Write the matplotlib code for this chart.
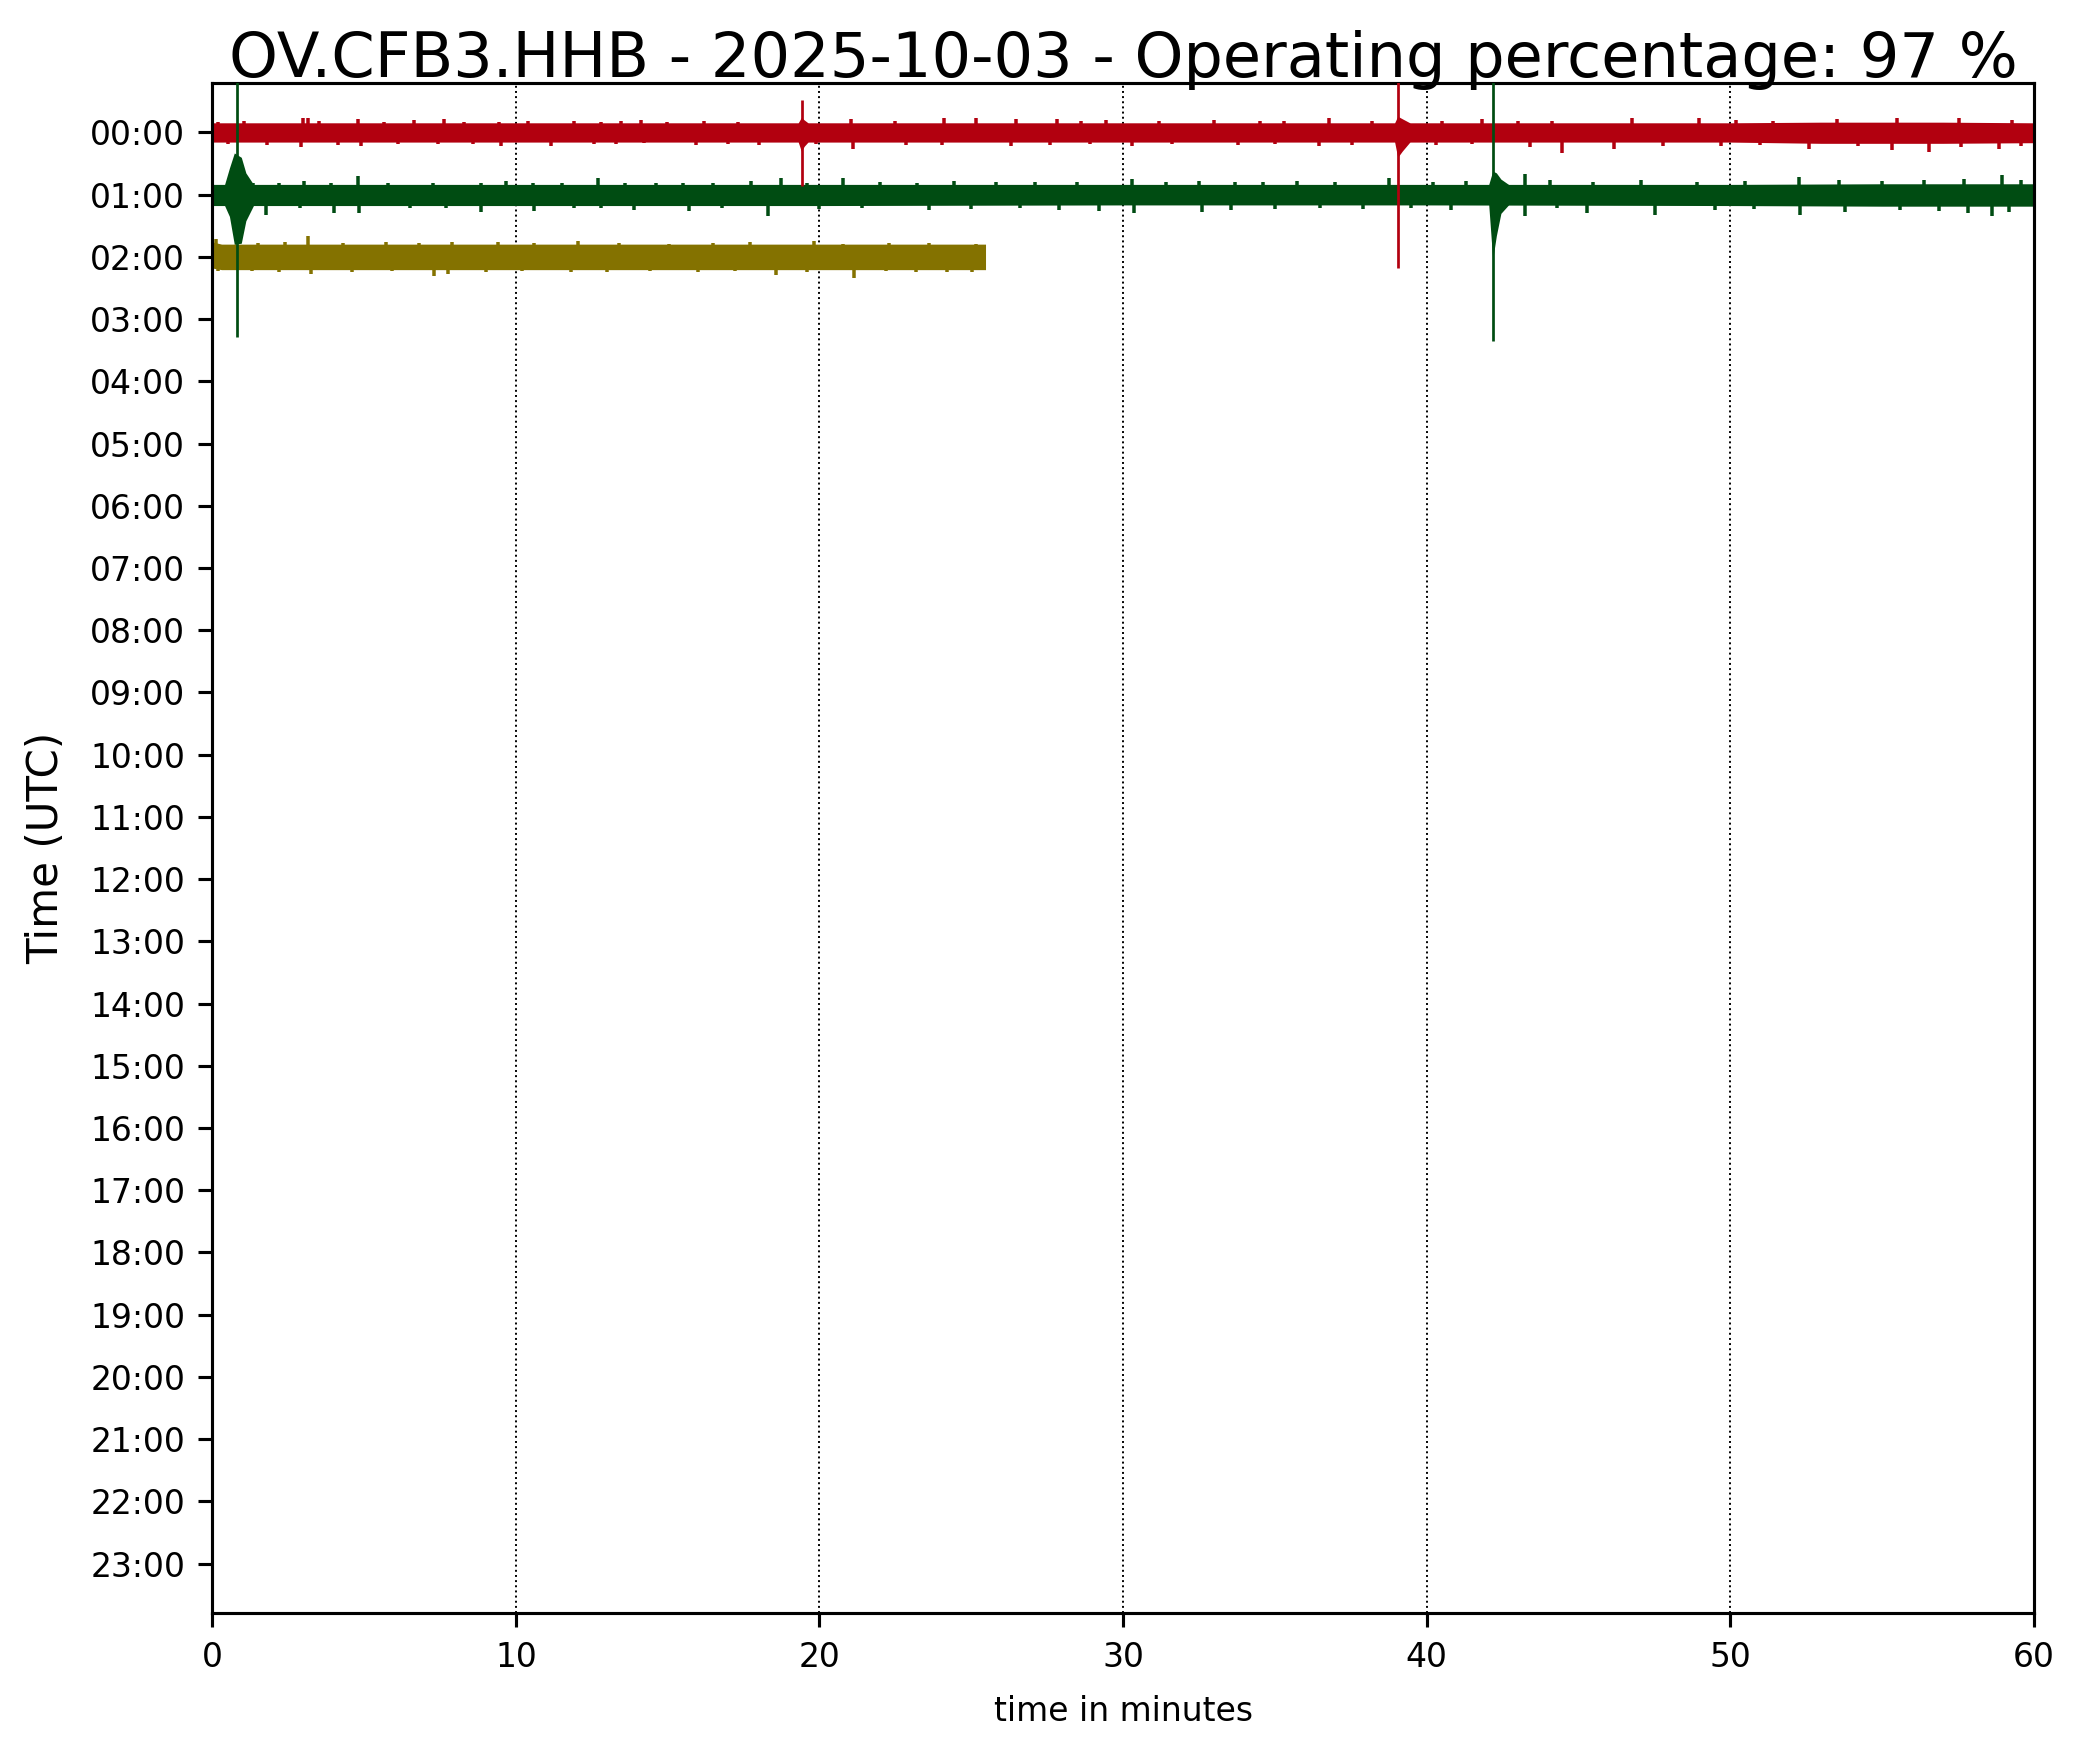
import numpy as np
import matplotlib
matplotlib.use("Agg")
import matplotlib.pyplot as plt

# ---------------- data ----------------
title = "OV.CFB3.HHB - 2025-10-03 - Operating percentage: 97 %"
hour_labels = [f"{h:02d}:00" for h in range(24)]
x_ticks = [0, 10, 20, 30, 40, 50, 60]
colors = ['#B2000F', '#004C12', '#847200']

# rows (hour index) of the three recorded hours
trace_rows = [0, 1, 2]

# core noise band half widths (in row units), read at breakpoints (minutes)
red_core_t = [0, 10, 20, 30, 40, 50, 53, 57, 60]
red_core_up = [0.155, 0.155, 0.155, 0.155, 0.155, 0.155, 0.165, 0.165, 0.155]
red_core_dn = [0.155, 0.155, 0.155, 0.155, 0.155, 0.155, 0.175, 0.175, 0.165]

green_core_t = [0, 10, 20, 30, 40, 50, 55, 60]
green_core_up = [0.165, 0.165, 0.165, 0.165, 0.165, 0.165, 0.175, 0.175]
green_core_dn = [0.175, 0.175, 0.175, 0.165, 0.165, 0.175, 0.185, 0.185]

yellow_core_t = [0, 0.3, 10, 20, 25.47]
yellow_core_up = [0.24, 0.205, 0.205, 0.205, 0.205]
yellow_core_dn = [0.18, 0.205, 0.205, 0.205, 0.205]

# individual noise peaks: (minute, amplitude) upward and downward
red_up = [[0.18, 0.16], [1.05, 0.19], [2.97, 0.24], [3.14, 0.23], [3.52, 0.19], [4.79, 0.22],
          [5.66, 0.16], [6.65, 0.20], [7.64, 0.21], [8.3, 0.17], [9.45, 0.17], [10.4, 0.18],
          [11.92, 0.19], [12.8, 0.17], [13.46, 0.19], [14.12, 0.20], [14.99, 0.16], [16.2, 0.18],
          [17.3, 0.17], [21.03, 0.21], [22.5, 0.18], [24.1, 0.24], [25.15, 0.23], [26.47, 0.21],
          [27.84, 0.21], [28.6, 0.19], [29.43, 0.20], [31.2, 0.18], [33.0, 0.20], [34.5, 0.19],
          [35.3, 0.18], [36.78, 0.23], [38.2, 0.19], [40.5, 0.19], [41.83, 0.21], [43.0, 0.18],
          [44.14, 0.19], [46.77, 0.23], [48.97, 0.23], [50.2, 0.20], [51.4, 0.19], [53.52, 0.22],
          [55.5, 0.24], [57.53, 0.23], [59.3, 0.20]]
red_dn = [[0.5, 0.19], [1.8, 0.20], [2.92, 0.24], [4.13, 0.20], [4.90, 0.21], [6.1, 0.18],
          [7.42, 0.19], [8.6, 0.18], [9.51, 0.21], [11.15, 0.22], [12.58, 0.19], [13.3, 0.18],
          [14.23, 0.17], [15.93, 0.20], [17.0, 0.18], [18.01, 0.20], [19.9, 0.19], [21.09, 0.26],
          [22.84, 0.20], [24.05, 0.20], [26.3, 0.21], [27.6, 0.20], [28.9, 0.19], [30.3, 0.21],
          [31.6, 0.19], [33.8, 0.20], [35.0, 0.19], [36.45, 0.21], [37.55, 0.20], [40.3, 0.20],
          [41.5, 0.19], [43.42, 0.24], [44.47, 0.33], [46.17, 0.27], [47.8, 0.22], [49.7, 0.21],
          [51.0, 0.20], [52.59, 0.26], [54.2, 0.22], [55.33, 0.28], [56.54, 0.32], [57.6, 0.23],
          [58.85, 0.27], [59.6, 0.22]]

green_up = [[1.33, 0.19], [2.2, 0.18], [3.03, 0.22], [3.91, 0.19], [4.79, 0.30], [5.8, 0.19],
            [7.26, 0.19], [8.85, 0.19], [9.67, 0.22], [10.55, 0.19], [11.5, 0.18], [12.69, 0.27],
            [13.6, 0.19], [14.61, 0.19], [15.5, 0.18], [16.48, 0.19], [17.74, 0.22], [18.72, 0.27],
            [19.6, 0.19], [20.76, 0.27], [22.0, 0.20], [23.2, 0.19], [24.44, 0.22], [25.8, 0.20],
            [27.1, 0.21], [28.5, 0.20], [30.3, 0.25], [31.4, 0.20], [32.5, 0.22], [33.7, 0.21],
            [34.6, 0.20], [35.74, 0.22], [37.0, 0.21], [38.76, 0.26], [40.2, 0.20], [41.3, 0.22],
            [43.26, 0.34], [44.08, 0.23], [45.5, 0.20], [47.05, 0.23], [48.9, 0.21], [50.5, 0.22],
            [52.26, 0.29], [53.6, 0.24], [55.0, 0.22], [56.4, 0.23], [57.7, 0.25], [58.96, 0.31],
            [59.6, 0.24]]
green_dn = [[1.77, 0.32], [2.9, 0.22], [4.02, 0.30], [4.84, 0.29], [6.5, 0.22], [7.7, 0.21],
            [8.85, 0.28], [10.6, 0.26], [11.9, 0.22], [12.8, 0.21], [13.9, 0.25], [15.71, 0.26],
            [16.8, 0.22], [18.29, 0.35], [20.0, 0.23], [21.4, 0.22], [23.61, 0.24], [25.0, 0.23],
            [26.6, 0.22], [27.9, 0.24], [29.21, 0.26], [30.36, 0.30], [32.61, 0.28], [33.55, 0.25],
            [35.0, 0.23], [36.5, 0.22], [37.9, 0.23], [39.5, 0.22], [40.8, 0.24], [43.26, 0.34],
            [44.3, 0.22], [45.29, 0.29], [47.54, 0.32], [49.5, 0.24], [50.8, 0.23], [52.31, 0.32],
            [53.79, 0.28], [55.6, 0.25], [56.9, 0.27], [57.85, 0.30], [58.63, 0.34], [59.2, 0.28]]

yellow_up = [[0.12, 0.29], [1.5, 0.23], [2.4, 0.24], [3.14, 0.34], [4.3, 0.23], [5.72, 0.24],
             [6.8, 0.22], [7.9, 0.24], [9.4, 0.24], [10.6, 0.23], [12.03, 0.26], [13.4, 0.22],
             [15.05, 0.21], [16.5, 0.23], [17.7, 0.24], [19.82, 0.25], [20.76, 0.21], [22.3, 0.22],
             [23.6, 0.23], [25.15, 0.21]]
yellow_dn = [[0.18, 0.22], [1.3, 0.23], [2.2, 0.24], [3.25, 0.27], [4.6, 0.24], [5.9, 0.23],
             [7.31, 0.30], [7.75, 0.27], [9.0, 0.24], [10.2, 0.23], [11.81, 0.25], [13.0, 0.24],
             [14.4, 0.23], [16.0, 0.24], [17.2, 0.22], [18.56, 0.29], [19.6, 0.24], [21.14, 0.34],
             [22.2, 0.23], [23.17, 0.25], [24.2, 0.24], [25.04, 0.25]]

# event envelopes: lists of (minute, up, down)
red_events = [
    [[19.30, 0.155, 0.155], [19.40, 0.24, 0.30], [19.50, 0.20, 0.22], [19.62, 0.155, 0.155]],
    [[38.95, 0.155, 0.155], [39.05, 0.26, 0.40], [39.20, 0.22, 0.30], [39.45, 0.155, 0.155]],
]
green_events = [
    [[0.40, 0.165, 0.175], [0.56, 0.43, 0.35], [0.72, 0.67, 0.80], [0.95, 0.60, 0.78],
     [1.10, 0.35, 0.42], [1.35, 0.165, 0.175]],
    [[42.05, 0.165, 0.165], [42.18, 0.38, 1.04], [42.30, 0.35, 0.66], [42.45, 0.25, 0.30],
     [42.70, 0.165, 0.165]],
]
yellow_events = []

# large spikes: (minute, up, down)
red_spikes = [[19.43, 0.52, 0.86], [39.06, 1.00, 2.18]]
green_spikes = [[0.81, 2.00, 2.29], [42.20, 2.00, 2.35]]
yellow_spikes = []

cores = [(red_core_t, red_core_up, red_core_dn),
         (green_core_t, green_core_up, green_core_dn),
         (yellow_core_t, yellow_core_up, yellow_core_dn)]
peaks = [(red_up, red_dn), (green_up, green_dn), (yellow_up, yellow_dn)]
events = [red_events, green_events, yellow_events]
spikes = [red_spikes, green_spikes, yellow_spikes]

# ---------------- figure ----------------
DPI = 280
fig = plt.figure(figsize=(2087 / DPI, 1755 / DPI), dpi=DPI)
ax = fig.add_axes([0.1018, 0.0807, 0.9744 - 0.1018, 0.9529 - 0.0807])

for i in range(3):
    row = trace_rows[i]
    c = colors[i]
    ct, cu, cd = cores[i]
    ax.fill_between(np.asarray(ct, float), row - np.asarray(cu), row + np.asarray(cd),
                    color=c, lw=0, zorder=2)
    up, dn = peaks[i]
    up = np.asarray(up)
    dn = np.asarray(dn)
    ax.vlines(up[:, 0], row, row - up[:, 1], color=c, lw=0.9, zorder=2)
    ax.vlines(dn[:, 0], row, row + dn[:, 1], color=c, lw=0.9, zorder=2)
    for ev in events[i]:
        ev = np.asarray(ev)
        ax.fill_between(ev[:, 0], row - ev[:, 1], row + ev[:, 2], color=c, lw=0, zorder=2)
    for (t, su, sd) in spikes[i]:
        ax.vlines([t], row - su, row + sd, color=c, lw=0.7, zorder=3)

ax.set_xlim(0, 60)
ax.set_ylim(23.8, -0.8)
ax.set_xticks(x_ticks)
ax.set_xticklabels([str(v) for v in x_ticks], fontsize=8.5)
ax.set_yticks(range(24))
ax.set_yticklabels(hour_labels, fontsize=8.5)
for xv in x_ticks[1:-1]:
    ax.axvline(xv, color='black', linestyle=':', lw=0.5, zorder=1)

ax.set_xlabel("time in minutes", fontsize=8.5, labelpad=5.5)
ax.set_ylabel("Time (UTC)", fontsize=10.8, labelpad=5.8)
ax.set_title(title, fontsize=16, y=1.0, pad=1.4)

fig.savefig("out.png", dpi=DPI)
